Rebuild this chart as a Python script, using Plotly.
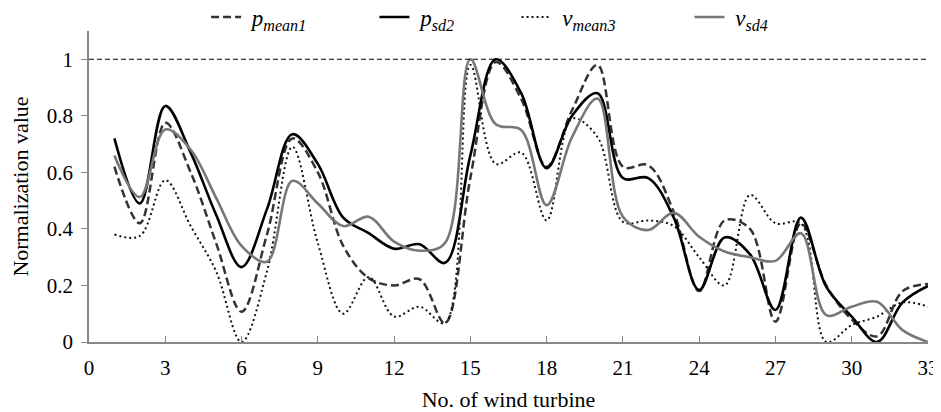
import plotly.graph_objects as go

turbines = list(range(1, 34))

p_mean1 = [0.62, 0.42, 0.775, 0.60, 0.35, 0.107, 0.38, 0.72, 0.60, 0.34, 0.226, 0.20, 0.222, 0.067,
           0.58, 0.99, 0.86, 0.62, 0.82, 0.98, 0.62, 0.625, 0.46, 0.18, 0.43, 0.40, 0.072, 0.42,
           0.20, 0.08, 0.02, 0.18, 0.205]
p_sd2 = [0.72, 0.49, 0.835, 0.67, 0.45, 0.265, 0.47, 0.735, 0.63, 0.44, 0.385, 0.33, 0.346, 0.28,
         0.66, 1.0, 0.88, 0.615, 0.80, 0.88, 0.58, 0.58, 0.44, 0.184, 0.37, 0.31, 0.113, 0.44,
         0.195, 0.09, 0.0, 0.14, 0.198]
v_mean3 = [0.38, 0.375, 0.572, 0.41, 0.25, 0.0, 0.25, 0.69, 0.35, 0.10, 0.23, 0.09, 0.125, 0.067,
           0.98, 0.63, 0.67, 0.43, 0.79, 0.725, 0.425, 0.43, 0.41, 0.30, 0.20, 0.52, 0.42, 0.42,
           0.0, 0.06, 0.09, 0.14, 0.125]
v_sd4 = [0.66, 0.513, 0.752, 0.68, 0.51, 0.34, 0.284, 0.57, 0.49, 0.41, 0.443, 0.355, 0.323, 0.35,
         1.0, 0.77, 0.75, 0.484, 0.725, 0.861, 0.443, 0.396, 0.457, 0.372, 0.32, 0.30, 0.287, 0.385,
         0.095, 0.125, 0.142, 0.042, 0.0]

x_ticks = list(range(0, 34, 3))
y_ticks = [0, 0.2, 0.4, 0.6, 0.8, 1]
y_tick_labels = ["0", "0.2", "0.4", "0.6", "0.8", "1"]

series_labels = ["<i>p</i><sub><i>mean1</i></sub>", "<i>p</i><sub><i>sd2</i></sub>",
                 "<i>v</i><sub><i>mean3</i></sub>", "<i>v</i><sub><i>sd4</i></sub>"]
NB = "\u00a0"
# trailing non-breaking spaces set the gap to the next legend entry
names = [NB + series_labels[0] + NB * 11,
         NB + series_labels[1] + NB * 10,
         NB + series_labels[2] + NB * 12,
         NB + series_labels[3]]

fig = go.Figure()
fig.add_trace(go.Scatter(x=turbines, y=p_mean1, mode="lines", name=names[0],
                         line=dict(color="#333333", width=2.5, dash="8px,4px", shape="spline", smoothing=1)))
fig.add_trace(go.Scatter(x=turbines, y=p_sd2, mode="lines", name=names[1],
                         line=dict(color="#000000", width=2.6, shape="spline", smoothing=1)))
fig.add_trace(go.Scatter(x=turbines, y=v_mean3, mode="lines", name=names[2],
                         line=dict(color="#111111", width=2, dash="2px,3px", shape="spline", smoothing=1)))
fig.add_trace(go.Scatter(x=turbines, y=v_sd4, mode="lines", name=names[3],
                         line=dict(color="#777777", width=2.6, shape="spline", smoothing=1)))

fig.add_shape(type="line", xref="x", yref="y", x0=0, x1=33, y0=1, y1=1,
              line=dict(color="#000000", width=1.2, dash="5px,3px"))

font_family = "Liberation Serif"
# The page body adds an 8px offset, so the figure is made smaller than the window.
fig.update_layout(
    width=933, height=404,
    margin=dict(l=81, r=13, t=23, b=70, autoexpand=False),
    paper_bgcolor="white", plot_bgcolor="white",
    font=dict(family=font_family, size=21, color="black"),
    showlegend=True,
    legend=dict(orientation="h", x=0.1395, xanchor="left", y=1.045, yanchor="middle",
                font=dict(family=font_family, size=23, color="black"),
                bgcolor="rgba(0,0,0,0)"),
    xaxis=dict(range=[0, 33], tickvals=x_ticks, ticks="inside", ticklen=6, tickcolor="#888888",
               showline=True, linecolor="#888888", linewidth=1.5, showgrid=False, zeroline=False,
               automargin=False, ticklabelstandoff=6,
               tickfont=dict(family=font_family, size=21, color="black"),
               title=dict(text="No. of wind turbine", font=dict(family=font_family, size=22), standoff=25)),
    yaxis=dict(range=[0, 1.1], tickvals=y_ticks, ticktext=y_tick_labels, ticks="outside", ticklen=6,
               tickcolor="#888888", showline=True, linecolor="#888888", linewidth=1.5,
               showgrid=False, zeroline=False, automargin=False, ticklabelstandoff=4,
               tickfont=dict(family=font_family, size=21, color="black"),
               title=dict(text="Normalization value", font=dict(family=font_family, size=22), standoff=12)),
)

fig.write_html("out.html")
